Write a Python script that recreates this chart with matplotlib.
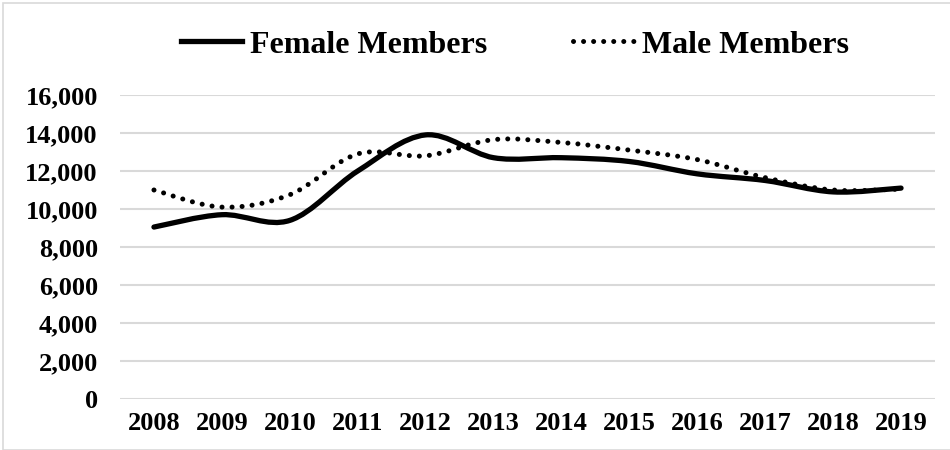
import numpy as np
import matplotlib.pyplot as plt
from matplotlib.path import Path
from matplotlib.patches import PathPatch, Rectangle
from matplotlib.lines import Line2D
from matplotlib.ticker import FuncFormatter

years = ["2008", "2009", "2010", "2011", "2012", "2013",
         "2014", "2015", "2016", "2017", "2018", "2019"]
female = [9050, 9700, 9400, 12000, 13900, 12700, 12700, 12500, 11850, 11500, 10900, 11100]
male = [11000, 10100, 10750, 12900, 12800, 13650, 13500, 13100, 12600, 11650, 11000, 11050]

plt.rcParams['font.family'] = ['Liberation Serif', 'DejaVu Serif']
plt.rcParams['font.weight'] = 'bold'


def smooth_path(xs, ys):
    # excel style smoothed line: cubic bezier through each point
    pts = np.column_stack([xs, ys]).astype(float)
    n = len(pts)
    verts = [pts[0]]
    codes = [Path.MOVETO]
    for i in range(n - 1):
        p0 = pts[max(i - 1, 0)]
        p1 = pts[i]
        p2 = pts[i + 1]
        p3 = pts[min(i + 2, n - 1)]
        c1 = p1 + (p2 - p0) / 6
        c2 = p2 - (p3 - p1) / 6
        verts += [c1, c2, p2]
        codes += [Path.CURVE4] * 3
    return Path(verts, codes)


dots = (0, (0.01, 2.0))

fig = plt.figure(figsize=(9.5, 4.5), dpi=100)
ax = fig.add_axes([120 / 950, 1 - 399 / 450, 815 / 950, 304 / 450])

x = np.arange(len(years))
ax.add_patch(PathPatch(smooth_path(x, female), fill=False, color='black',
                       lw=3.8, capstyle='round', joinstyle='round', zorder=3))
ax.add_patch(PathPatch(smooth_path(x, male), fill=False, color='black',
                       lw=3.6, linestyle=dots, capstyle='round', zorder=3))

ax.set_xlim(-0.5, len(years) - 0.5)
ax.set_ylim(0, 16000)
ax.set_yticks(np.arange(0, 16001, 2000))
ax.yaxis.set_major_formatter(FuncFormatter(lambda v, p: f"{int(v):,}"))
ax.set_xticks(x)
ax.set_xticklabels(years)
ax.grid(axis='y', color='#d9d9d9', lw=1.5)
ax.set_axisbelow(True)
for s in ax.spines.values():
    s.set_visible(False)
ax.tick_params(length=0, labelsize=19)
ax.tick_params(axis='y', pad=16)
ax.tick_params(axis='x', pad=9)
for lab in ax.get_xticklabels() + ax.get_yticklabels():
    lab.set_fontweight('bold')

handles = [Line2D([], [], color='black', lw=3.8),
           Line2D([], [], color='black', lw=3.6, linestyle=dots,
                  dash_capstyle='round')]
fig.legend(handles, ["Female Members", "Male Members"], loc='center',
           bbox_to_anchor=(0.542, 1 - 45 / 450), ncol=2, frameon=False,
           prop={'size': 23, 'weight': 'bold'}, handlelength=1.9,
           handletextpad=0.25, columnspacing=2.7)

fig.patches.append(Rectangle((3 / 950, 0), 1, 1 - 3 / 450, transform=fig.transFigure,
                             fill=False, edgecolor='#d9d9d9', lw=1.2))

fig.savefig('out.png', dpi=100)
